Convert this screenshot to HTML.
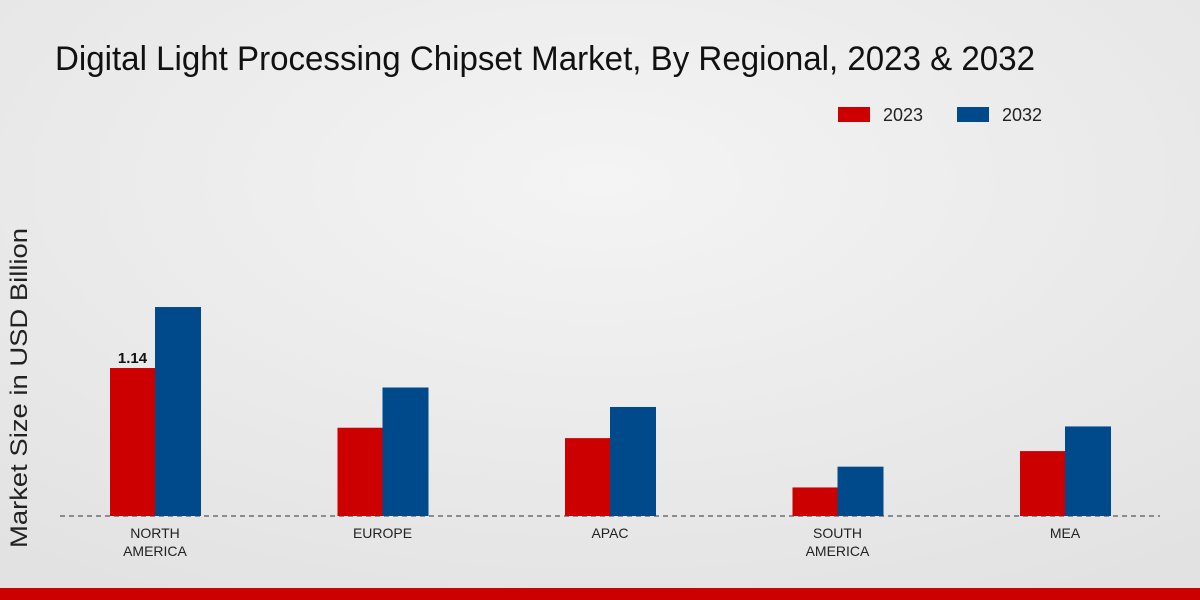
<!DOCTYPE html>
<html><head><meta charset="utf-8"><style>
body{margin:0;width:1200px;height:600px;overflow:hidden;font-family:"Liberation Sans",sans-serif}
svg{display:block}
</style></head><body>
<svg width="1200" height="600" id="c">
<defs><radialGradient id="bg" cx="0.5" cy="0.3" r="0.8"><stop offset="0" stop-color="#f4f4f4"/><stop offset="1" stop-color="#e2e2e2"/></radialGradient></defs>
<rect width="1200" height="600" fill="url(#bg)"/>
<text x="55" y="70" font-size="34" fill="#111" textLength="980" lengthAdjust="spacingAndGlyphs">Digital Light Processing Chipset Market, By Regional, 2023 &amp; 2032</text>
<g>
<rect x="838" y="107" width="32" height="15" fill="#cc0000"/>
<text x="883" y="121" font-size="18" fill="#222">2023</text>
<rect x="957" y="107" width="32" height="15" fill="#004a8c"/>
<text x="1002" y="121" font-size="18" fill="#222">2032</text>
</g>
<text transform="translate(27,388) rotate(-90)" text-anchor="middle" font-size="24" fill="#222" textLength="320" lengthAdjust="spacingAndGlyphs">Market Size in USD Billion</text>
<line x1="60" y1="516" x2="1160" y2="516" stroke="#333" stroke-dasharray="5,4"/>
<g id="bars"></g>
<rect x="0" y="588" width="1200" height="12" fill="#cc0000"/>
</svg>
<script>
const categories=[["NORTH","AMERICA"],["EUROPE"],["APAC"],["SOUTH","AMERICA"],["MEA"]];
const values2023=[1.14,0.68,0.60,0.22,0.50];
const values2032=[1.61,0.99,0.84,0.38,0.69];
const labelShown=[true,false,false,false,false];
const ns="http://www.w3.org/2000/svg";
const g=document.getElementById('bars');
const base=516, scale=129.8, x0=155, step=227.5, bw=45;
function y(v){return base-v*scale;}
function cx(i){return x0+i*step;}
function mk(t,a){const e=document.createElementNS(ns,t);for(const k in a)e.setAttribute(k,a[k]);g.appendChild(e);return e;}
categories.forEach((c,i)=>{
 const r=mk('rect',{x:cx(i)-bw,y:y(values2023[i]),width:bw,height:values2023[i]*scale,fill:'#cc0000'});
 
 
 const b=mk('rect',{x:cx(i),y:y(values2032[i]),width:bw+1,height:values2032[i]*scale,fill:'#004a8c'});
 
 
 c.forEach((line,j)=>{
  const t=mk('text',{x:cx(i),y:538+j*18,'text-anchor':'middle','font-size':14,fill:'#222'});
  t.textContent=line;
  
  
 });
 if(labelShown[i]){
  const t=mk('text',{x:cx(i)-bw/2,y:y(values2023[i])-5,'text-anchor':'middle','font-size':15,'font-weight':'bold',fill:'#111'});
  t.textContent=values2023[i].toFixed(2);
  
  
 }
});
</script>
</body></html>
